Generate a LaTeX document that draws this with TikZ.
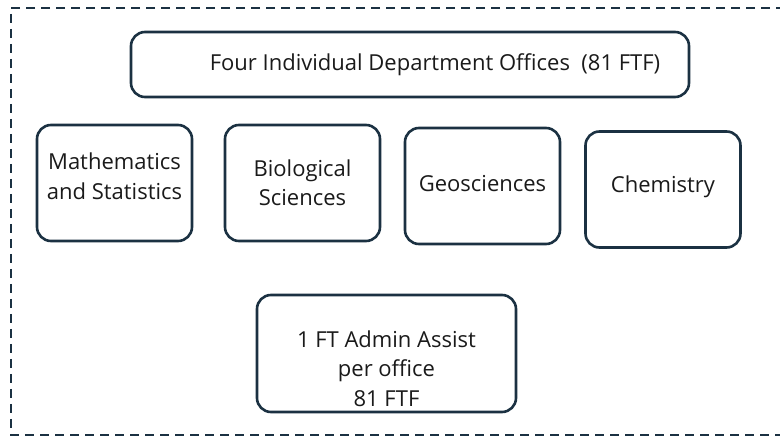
\documentclass[tikz,border=0pt]{standalone}
\usepackage{fontspec}
\setmainfont{Open Sans}
\usepackage{xcolor}
\definecolor{boxline}{HTML}{1B3142}
\definecolor{boxtext}{HTML}{1A1A1A}

\begin{document}
\begin{tikzpicture}[x=1pt,y=-1pt,
	dept/.style={draw=boxline, line width=2.6pt, rounded corners=14pt,
		minimum width=155pt, minimum height=116pt, inner sep=0pt,
		align=center, text=boxtext, font=\fontsize{22}{29.5}\selectfont}]
	\useasboundingbox (0,0) rectangle (780,438);
	\clip (0,0) rectangle (780,438);
	
	\draw[boxline, line width=2.4pt, dash pattern=on 9pt off 6pt]
	(800,8) -- (11,8) -- (11,435) -- (800,435);
	
	\node[dept, minimum width=558pt, minimum height=65pt] (office) at (410,64.5)
	{\hspace*{50pt}Four Individual Department Offices~ (81 FTF)};
	
	\node[dept] (math) at (114.5,183) {Mathematics\\and Statistics\rule[-14pt]{0pt}{14pt}};
	\node[dept] (bio) at (302.5,183) {Biological\\Sciences};
	\node[dept] (geo) at (482.5,186) {Geosciences\rule[-6pt]{0pt}{6pt}};
	\node[dept] (chem) at (663,189.5) {Chemistry\rule[-11pt]{0pt}{11pt}};
	
	\node[dept, minimum width=259pt, minimum height=117pt] (admin) at (386.5,353.5)
	{\rule{0pt}{47pt}1 FT Admin Assist\\per office\\81 FTF};
\end{tikzpicture}
\end{document}
